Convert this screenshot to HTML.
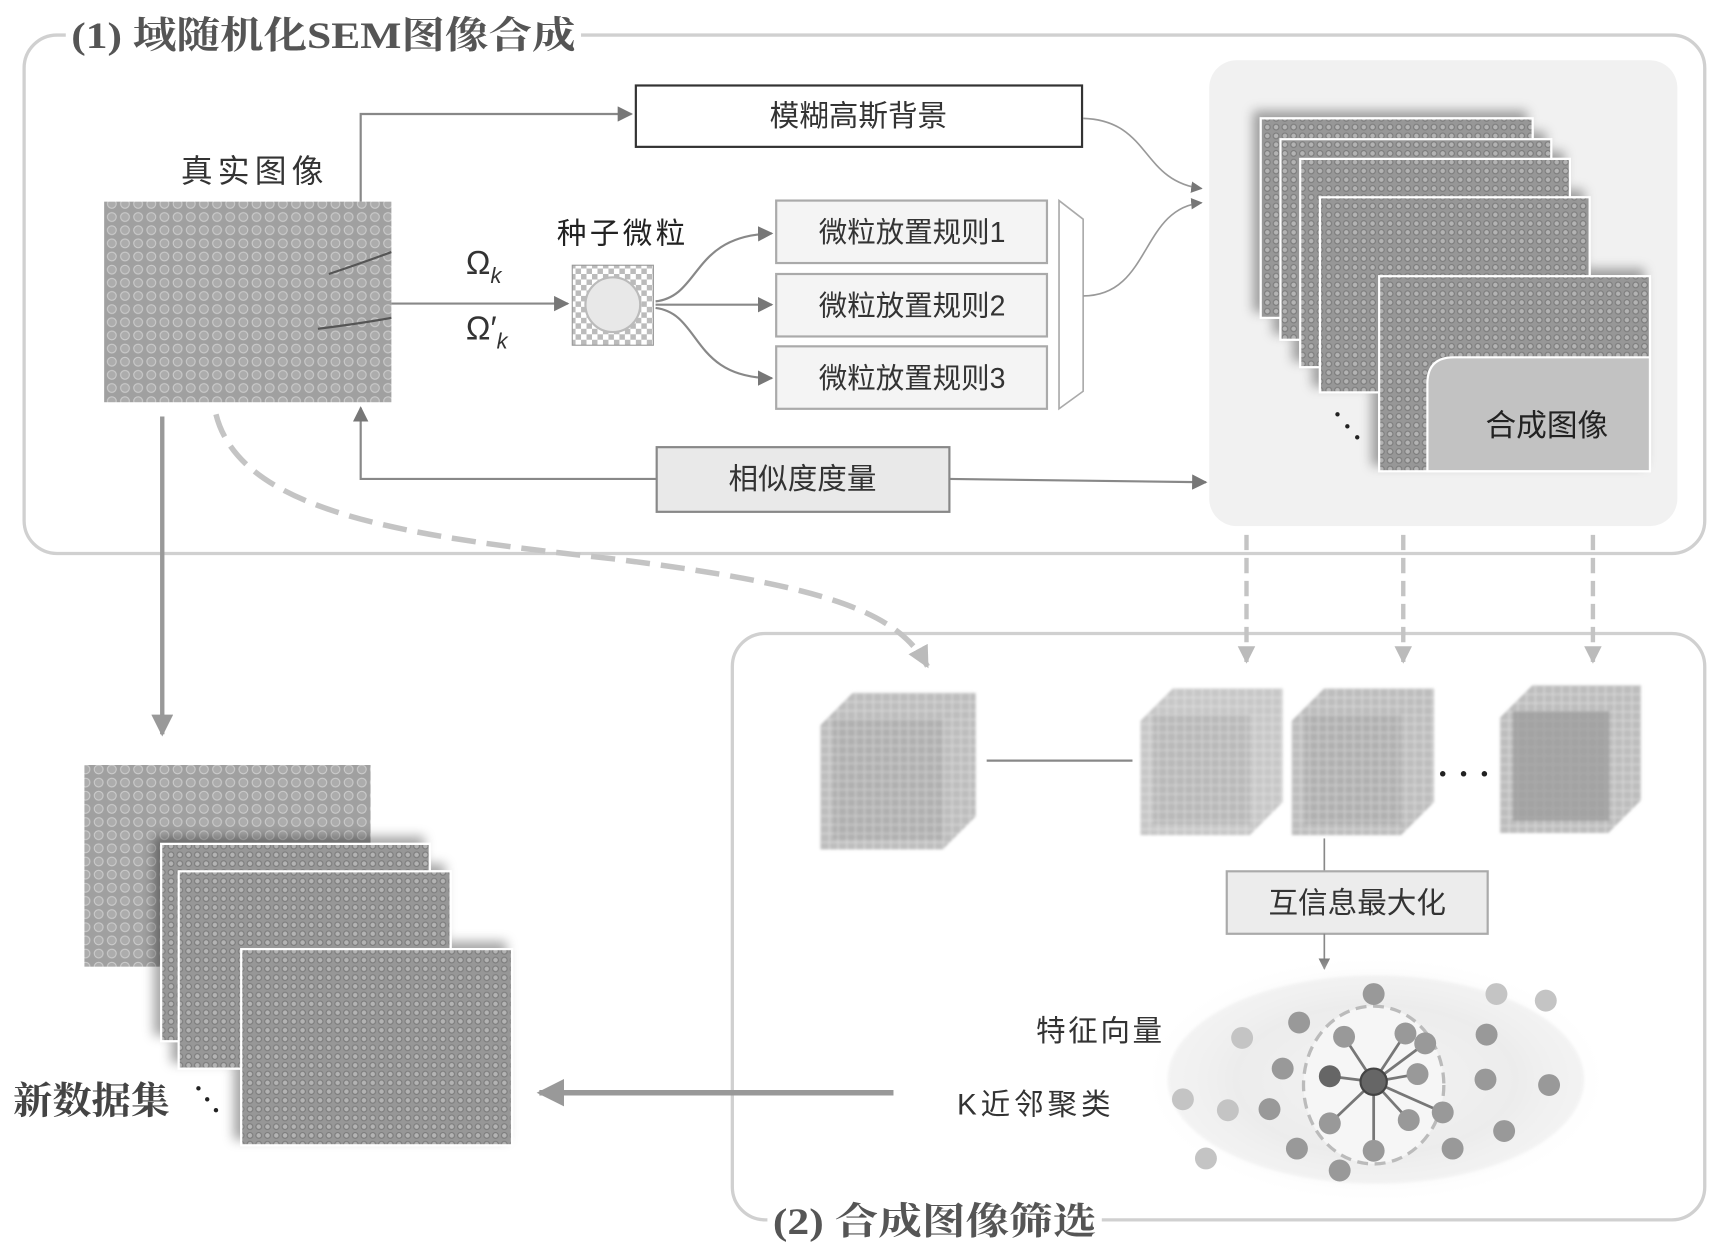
<!DOCTYPE html>
<html><head><meta charset="utf-8"><style>
html,body{margin:0;padding:0;background:#fff;}
svg{display:block;}
text{font-family:"Liberation Sans","Noto Sans CJK SC",sans-serif;}
.t{font-family:"Liberation Serif","Noto Serif CJK SC",serif;font-weight:bold;fill:#555;}
</style></head><body>
<svg width="1719" height="1256" viewBox="0 0 1568 1146" preserveAspectRatio="none" xmlns="http://www.w3.org/2000/svg">
<defs>
<pattern id="sem" width="8" height="8" patternUnits="userSpaceOnUse">
<rect width="8" height="8" fill="#979797"/><circle cx="4" cy="4" r="2.6" fill="#b3b3b3" stroke="#7c7c7c" stroke-width="1"/>
</pattern>
<pattern id="real" width="12" height="12" patternUnits="userSpaceOnUse">
<rect width="12" height="12" fill="#a0a0a0"/><circle cx="6" cy="6" r="4" fill="#acacac" stroke="#cbcbcb" stroke-width="1"/>
</pattern>
<pattern id="chk" width="10" height="10" patternUnits="userSpaceOnUse">
<rect width="10" height="10" fill="#fff"/><rect width="5" height="5" fill="#bbb"/><rect x="5" y="5" width="5" height="5" fill="#bbb"/>
</pattern>
<pattern id="grid" width="8" height="8" patternUnits="userSpaceOnUse">
<rect width="8" height="8" fill="#bdbdbd"/><path d="M0 0H8M0 0V8" stroke="#dadada" stroke-width="2"/>
</pattern>
<pattern id="grid2" width="8" height="8" patternUnits="userSpaceOnUse">
<rect width="8" height="8" fill="#a8a8a8"/><path d="M0 0H8M0 0V8" stroke="#c8c8c8" stroke-width="2"/>
</pattern>
<radialGradient id="cloud" cx="0.5" cy="0.5" r="0.5">
<stop offset="0" stop-color="#fff"/><stop offset="0.6" stop-color="#eee"/><stop offset="1" stop-color="#fff" stop-opacity="0"/>
</radialGradient>
<filter id="sh"><feDropShadow dx="-6" dy="-6" stdDeviation="5" flood-color="#000" flood-opacity="0.35"/></filter>
<filter id="bl"><feGaussianBlur stdDeviation="1.2"/></filter>
<marker id="ar" viewBox="0 0 10 10" refX="9" refY="5" markerWidth="7" markerHeight="7" orient="auto"><path d="M0 0L10 5L0 10z" fill="#777"/></marker>
<marker id="arl" viewBox="0 0 10 10" refX="9" refY="5" markerWidth="4" markerHeight="4" orient="auto"><path d="M0 0L10 5L0 10z" fill="#bbb"/></marker>
<marker id="arg" viewBox="0 0 10 10" refX="9" refY="5" markerWidth="5" markerHeight="5" orient="auto"><path d="M0 0L10 5L0 10z" fill="#999"/></marker>
</defs>
<rect width="1568" height="1146" fill="#fff"/>
<!-- box 1 -->
<rect x="22" y="32" width="1533" height="473" rx="30" fill="#fff" stroke="#d0d0d0" stroke-width="3"/>
<rect x="60" y="12" width="470" height="40" fill="#fff"/>
<text x="65" y="44" class="t" font-size="34" textLength="460" lengthAdjust="spacingAndGlyphs">(1) 域随机化SEM图像合成</text>
<!-- box 2 -->
<rect x="668" y="578" width="887" height="535" rx="30" fill="#fff" stroke="#d0d0d0" stroke-width="3"/>
<rect x="700" y="1095" width="305" height="40" fill="#fff"/>
<text x="705" y="1126" class="t" font-size="34" textLength="295" lengthAdjust="spacingAndGlyphs">(2) 合成图像筛选</text>

<!-- real image -->
<text x="165" y="166" font-size="29" fill="#333" textLength="130">真实图像</text>
<rect x="95" y="184" width="262" height="183" fill="url(#real)"/>
<path d="M300 250q30-10 57-20M290 300q40-5 67-10" stroke="#555" stroke-width="2" fill="none"/>
<path d="M329 184V104H576" stroke="#888" stroke-width="2" fill="none" marker-end="url(#ar)"/>
<rect x="580" y="78" width="407" height="56" fill="#fff" stroke="#333" stroke-width="2"/>
<text x="783" y="115" font-size="27" fill="#333" text-anchor="middle">模糊高斯背景</text>
<path d="M357 277H518" stroke="#888" stroke-width="2" marker-end="url(#ar)"/>
<text x="425" y="250" font-size="30" font-family="Liberation Serif,serif" fill="#333">Ω<tspan font-size="20" font-style="italic" dy="8">k</tspan></text>
<text x="425" y="310" font-size="30" font-family="Liberation Serif,serif" fill="#333">Ω′<tspan font-size="20" font-style="italic" dy="8">k</tspan></text>
<text x="508" y="222" font-size="27" fill="#222" textLength="117">种子微粒</text>
<rect x="522" y="242" width="74" height="73" fill="url(#chk)" stroke="#999"/>
<circle cx="559" cy="278" r="25" fill="#e8e8e8" stroke="#bbb" stroke-width="2"/>
<g stroke="#888" stroke-width="2" fill="none">
<path d="M598 275C640 270 630 215 704 213" marker-end="url(#ar)"/>
<path d="M598 278H704" marker-end="url(#ar)"/>
<path d="M598 281C640 286 630 345 704 345" marker-end="url(#ar)"/>
</g>
<g fill="#f4f4f4" stroke="#aaa" stroke-width="2">
<rect x="708" y="183" width="247" height="57"/><rect x="708" y="250" width="247" height="57"/><rect x="708" y="316" width="247" height="57"/>
</g>
<g font-size="26" fill="#333" text-anchor="middle">
<text x="832" y="221">微粒放置规则1</text><text x="832" y="288">微粒放置规则2</text><text x="832" y="354">微粒放置规则3</text>
</g>
<polygon points="966,183 988,200 988,357 966,373" fill="#fff" stroke="#aaa" stroke-width="1.5"/>
<g stroke="#999" stroke-width="1.5" fill="none">
<path d="M988 108C1050 110 1040 165 1096 172" marker-end="url(#ar)"/>
<path d="M988 270C1050 270 1040 190 1096 185" marker-end="url(#ar)"/>
</g>
<!-- panel -->
<rect x="1103" y="55" width="427" height="425" rx="25" fill="#f1f1f1"/>
<g filter="url(#sh)" stroke="#fff" stroke-width="2">
<rect x="1150" y="108" width="248" height="182" fill="url(#sem)"/>
<rect x="1168" y="127" width="247" height="183" fill="url(#sem)"/>
<rect x="1186" y="145" width="246" height="190" fill="url(#sem)"/>
<rect x="1204" y="180" width="246" height="178" fill="url(#sem)"/>
<rect x="1258" y="252" width="247" height="178" fill="url(#sem)"/>
</g>
<path d="M1302 430V350q0-24 24-24H1505V430z" fill="#c2c2c2" stroke="#fff" stroke-width="2"/>
<text x="1355" y="398" font-size="28" fill="#222">合成图像</text>
<g fill="#222"><circle cx="1220" cy="378" r="2"/><circle cx="1229" cy="389" r="2"/><circle cx="1238" cy="399" r="2"/></g>
<!-- similarity -->
<rect x="599" y="408" width="267" height="59" fill="#e9e9e9" stroke="#888" stroke-width="2"/>
<text x="732" y="446" font-size="27" fill="#333" text-anchor="middle">相似度度量</text>
<path d="M599 437H329V372" stroke="#888" stroke-width="2" fill="none" marker-end="url(#ar)"/>
<path d="M866 437L1100 440" stroke="#888" stroke-width="2" marker-end="url(#ar)"/>
<!-- left arrow down -->
<path d="M148 380V670" stroke="#999" stroke-width="4" marker-end="url(#arg)"/>
<path d="M197 378C220 470 380 490 560 510C760 535 820 560 846 608" stroke="#c4c4c4" stroke-width="5" stroke-dasharray="22 10" fill="none" marker-end="url(#arl)"/>
<g stroke="#c4c4c4" stroke-width="4" stroke-dasharray="14 7">
<path d="M1137 488V604" marker-end="url(#arl)"/><path d="M1280 488V604" marker-end="url(#arl)"/><path d="M1453 488V604" marker-end="url(#arl)"/>
</g>
<!-- cubes -->
<g filter="url(#bl)">
<g transform="translate(748,632)"><polygon points="0,30 30,0 142,0 142,113 112,143 0,143" fill="url(#grid)"/><rect x="12" y="24" width="100" height="110" fill="url(#grid2)" opacity="0.6"/></g>
<g transform="translate(1040,628)"><polygon points="0,30 30,0 130,0 130,104 100,134 0,134" fill="url(#grid)" opacity="0.85"/><rect x="12" y="24" width="88" height="100" fill="url(#grid2)" opacity="0.45"/></g>
<g transform="translate(1178,628)"><polygon points="0,30 30,0 130,0 130,104 100,134 0,134" fill="url(#grid)"/><rect x="12" y="24" width="88" height="100" fill="url(#grid2)" opacity="0.6"/></g>
<g transform="translate(1368,625)"><polygon points="0,30 30,0 129,0 129,105 99,135 0,135" fill="url(#grid)"/><rect x="12" y="24" width="88" height="100" fill="#999" opacity="0.7"/></g>
</g>
<path d="M900 694H1033" stroke="#888" stroke-width="2"/>
<g fill="#222"><circle cx="1316" cy="706" r="2.5"/><circle cx="1335" cy="706" r="2.5"/><circle cx="1354" cy="706" r="2.5"/></g>
<path d="M1208 765V795" stroke="#888" stroke-width="1.5"/>
<rect x="1119" y="795" width="238" height="57" fill="#ececec" stroke="#aaa" stroke-width="2"/>
<text x="1238" y="833" font-size="27" fill="#333" text-anchor="middle">互信息最大化</text>
<path d="M1208 852V884" stroke="#888" stroke-width="1.5" marker-end="url(#ar)"/>
<!-- cluster -->
<ellipse cx="1255" cy="985" rx="215" ry="115" fill="url(#cloud)"/>
<ellipse cx="1255" cy="985" rx="190" ry="95" fill="#ececec" opacity="0.6" filter="url(#bl)"/>
<ellipse cx="1253" cy="990" rx="64" ry="72" fill="#f6f6f6" stroke="#bbb" stroke-width="3" stroke-dasharray="10 6"/>
<g stroke="#777" stroke-width="2.5">
<path d="M1253 987L1226 946M1253 987L1282 943M1253 987L1300 952M1253 987L1213 982M1253 987L1293 980M1253 987L1316 1015M1253 987L1213 1025M1253 987L1285 1022M1253 987L1253 1050"/>
</g>
<g fill="#999">
<circle cx="1226" cy="946" r="10"/><circle cx="1282" cy="943" r="10"/><circle cx="1300" cy="952" r="10"/><circle cx="1293" cy="980" r="10"/><circle cx="1316" cy="1015" r="10"/><circle cx="1213" cy="1025" r="10"/><circle cx="1285" cy="1022" r="10"/><circle cx="1253" cy="1050" r="10"/>
<circle cx="1253" cy="907" r="10"/><circle cx="1185" cy="933" r="10"/><circle cx="1170" cy="975" r="10"/><circle cx="1158" cy="1012" r="10"/><circle cx="1183" cy="1048" r="10"/><circle cx="1222" cy="1068" r="10"/><circle cx="1325" cy="1048" r="10"/><circle cx="1356" cy="944" r="10"/><circle cx="1355" cy="985" r="10"/><circle cx="1372" cy="1032" r="10"/><circle cx="1413" cy="990" r="10"/>
</g>
<g fill="#c4c4c4">
<circle cx="1120" cy="1013" r="10"/><circle cx="1079" cy="1003" r="10"/><circle cx="1133" cy="947" r="10"/><circle cx="1100" cy="1057" r="10"/><circle cx="1365" cy="907" r="10"/><circle cx="1410" cy="913" r="10"/>
</g>
<circle cx="1213" cy="982" r="10" fill="#666"/>
<circle cx="1253" cy="987" r="12" fill="#666" stroke="#444" stroke-width="2"/>
<text x="945" y="950" font-size="27" fill="#333" textLength="115">特征向量</text>
<text x="873" y="1017" font-size="27" fill="#333" textLength="140">K近邻聚类</text>
<path d="M815 997H492" stroke="#999" stroke-width="5" marker-end="url(#arg)"/>
<!-- new dataset -->
<rect x="77" y="698" width="261" height="184" fill="url(#real)"/>
<g filter="url(#sh)" stroke="#fff" stroke-width="2">
<rect x="147" y="770" width="245" height="180" fill="url(#sem)"/>
<rect x="163" y="795" width="248" height="180" fill="url(#sem)"/>
<rect x="220" y="866" width="247" height="179" fill="url(#sem)"/>
</g>
<text x="12" y="1016" class="t" font-size="34" style="fill:#444" textLength="143" lengthAdjust="spacingAndGlyphs">新数据集</text>
<g fill="#222"><circle cx="181" cy="993" r="2"/><circle cx="189" cy="1003" r="2"/><circle cx="197" cy="1013" r="2"/></g>
</svg>
</body></html>
